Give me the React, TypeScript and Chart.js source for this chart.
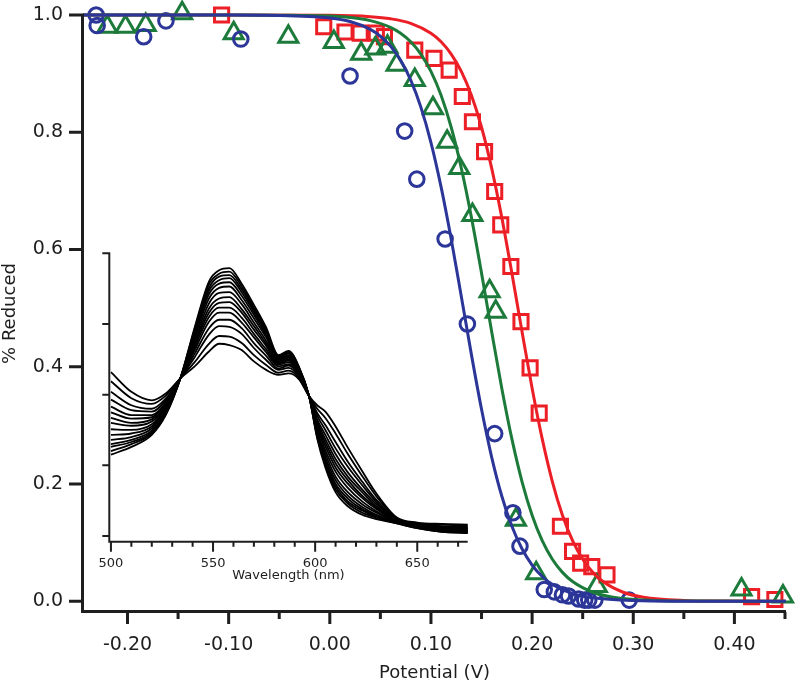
import React, { useEffect, useRef } from "react";
import { Chart, registerables } from "chart.js";

Chart.register(...registerables);

const FONT = "'DejaVu Sans', sans-serif";
const INK = "#1e1e1e";
const BLUE = "rgb(43,54,152)";
const GREEN = "rgb(28,122,58)";
const RED = "rgb(236,30,38)";

// ---- main chart: measured points ----
const blueX = [-0.231, -0.23, -0.184, -0.162, -0.088, 0.02, 0.074, 0.086, 0.114, 0.136, 0.163, 0.181, 0.188, 0.212, 0.222, 0.23, 0.236, 0.246, 0.252, 0.256, 0.262, 0.296];
const blueY = [1.0, 0.982, 0.963, 0.99, 0.959, 0.896, 0.802, 0.72, 0.618, 0.473, 0.286, 0.151, 0.094, 0.02, 0.016, 0.011, 0.009, 0.004, 0.002, 0.002, 0.002, 0.002];

const greenX = [-0.22, -0.202, -0.182, -0.146, -0.095, -0.041, 0.004, 0.031, 0.045, 0.057, 0.066, 0.084, 0.102, 0.116, 0.128, 0.141, 0.158, 0.164, 0.184, 0.204, 0.264, 0.407, 0.448];
const greenY = [0.98, 0.98, 0.983, 1.003, 0.969, 0.963, 0.954, 0.934, 0.943, 0.946, 0.915, 0.889, 0.841, 0.784, 0.739, 0.659, 0.529, 0.494, 0.139, 0.048, 0.026, 0.02, 0.008];

const redX = [-0.107, -0.006, 0.015, 0.03, 0.046, 0.054, 0.084, 0.103, 0.118, 0.131, 0.141, 0.153, 0.163, 0.169, 0.179, 0.189, 0.198, 0.207, 0.228, 0.24, 0.248, 0.259, 0.274, 0.417, 0.44];
const redY = [1.0, 0.98, 0.971, 0.969, 0.969, 0.963, 0.94, 0.926, 0.906, 0.861, 0.818, 0.767, 0.699, 0.642, 0.571, 0.477, 0.398, 0.321, 0.128, 0.085, 0.065, 0.059, 0.045, 0.008, 0.003];

// ---- main chart: fitted curves ----
const blueFitX = [-0.244, -0.1, -0.05, 0.0, 0.02, 0.04, 0.05, 0.06, 0.07, 0.08, 0.09, 0.1, 0.11, 0.12, 0.13, 0.14, 0.15, 0.16, 0.17, 0.18, 0.19, 0.2, 0.21, 0.22, 0.24, 0.26, 0.3, 0.35, 0.451];
const blueFitY = [1.0, 0.9999, 0.9993, 0.9949, 0.9888, 0.9754, 0.9638, 0.9469, 0.9228, 0.889, 0.8429, 0.7825, 0.7068, 0.6178, 0.52, 0.4207, 0.3274, 0.246, 0.1795, 0.1279, 0.0895, 0.0618, 0.0423, 0.0288, 0.0131, 0.0059, 0.0012, 0.0002, 0.0];

const greenFitX = [-0.244, -0.1, -0.05, 0.0, 0.02, 0.04, 0.06, 0.07, 0.08, 0.09, 0.1, 0.11, 0.12, 0.13, 0.14, 0.15, 0.16, 0.17, 0.18, 0.19, 0.2, 0.21, 0.22, 0.23, 0.24, 0.26, 0.28, 0.32, 0.36, 0.451];
const greenFitY = [1.0, 1.0, 0.9997, 0.9981, 0.9957, 0.9904, 0.979, 0.9689, 0.9544, 0.9334, 0.9038, 0.863, 0.8085, 0.7388, 0.6548, 0.5597, 0.4601, 0.3635, 0.2769, 0.2042, 0.1468, 0.1034, 0.0717, 0.0493, 0.0336, 0.0154, 0.007, 0.0014, 0.0003, 0.0];

const redFitX = [-0.244, -0.1, 0.0, 0.04, 0.06, 0.08, 0.1, 0.11, 0.12, 0.13, 0.14, 0.15, 0.16, 0.17, 0.18, 0.19, 0.2, 0.21, 0.22, 0.23, 0.24, 0.25, 0.26, 0.27, 0.29, 0.31, 0.35, 0.39, 0.451];
const redFitY = [1.0, 1.0, 0.9994, 0.9971, 0.9936, 0.9858, 0.9689, 0.9544, 0.9334, 0.9038, 0.863, 0.8085, 0.7388, 0.6548, 0.5597, 0.4601, 0.3635, 0.2769, 0.2042, 0.1468, 0.1034, 0.0717, 0.0493, 0.0336, 0.0154, 0.007, 0.0014, 0.0003, 0.0];

const xMajorTicks = [-0.2, -0.1, 0.0, 0.1, 0.2, 0.3, 0.4];
const xMinorTicks = [-0.15, -0.05, 0.05, 0.15, 0.25, 0.35, 0.45];
const yMajorTicks = [0.0, 0.2, 0.4, 0.6, 0.8, 1.0];

// ---- inset: absorbance spectra ----
const wavelengths = [500, 510, 520, 527, 534, 541, 548, 553, 558, 564, 570, 576, 582, 587, 592, 597, 601, 605, 610, 616, 623, 630, 640, 650, 662, 675];
const spectra = [
  [0.232, 0.204, 0.192, 0.202, 0.223, 0.240, 0.261, 0.272, 0.270, 0.263, 0.247, 0.235, 0.228, 0.230, 0.222, 0.198, 0.185, 0.176, 0.155, 0.125, 0.092, 0.060, 0.026, 0.019, 0.017, 0.016],
  [0.219, 0.195, 0.187, 0.199, 0.223, 0.246, 0.272, 0.283, 0.282, 0.273, 0.256, 0.242, 0.231, 0.234, 0.224, 0.198, 0.180, 0.167, 0.145, 0.116, 0.085, 0.056, 0.025, 0.018, 0.016, 0.015],
  [0.204, 0.185, 0.180, 0.195, 0.223, 0.253, 0.285, 0.297, 0.296, 0.286, 0.266, 0.249, 0.235, 0.238, 0.226, 0.198, 0.174, 0.157, 0.133, 0.105, 0.077, 0.051, 0.024, 0.017, 0.014, 0.013],
  [0.193, 0.178, 0.176, 0.192, 0.223, 0.258, 0.294, 0.306, 0.306, 0.294, 0.273, 0.255, 0.237, 0.241, 0.228, 0.198, 0.170, 0.150, 0.124, 0.098, 0.072, 0.048, 0.023, 0.016, 0.013, 0.012],
  [0.183, 0.171, 0.171, 0.189, 0.223, 0.263, 0.303, 0.316, 0.316, 0.302, 0.281, 0.260, 0.240, 0.243, 0.230, 0.198, 0.165, 0.143, 0.116, 0.090, 0.066, 0.045, 0.023, 0.016, 0.012, 0.011],
  [0.175, 0.166, 0.168, 0.187, 0.223, 0.267, 0.310, 0.323, 0.323, 0.309, 0.286, 0.264, 0.242, 0.246, 0.231, 0.198, 0.162, 0.137, 0.109, 0.084, 0.062, 0.042, 0.022, 0.015, 0.012, 0.010],
  [0.167, 0.160, 0.165, 0.185, 0.223, 0.271, 0.316, 0.330, 0.331, 0.316, 0.292, 0.269, 0.244, 0.248, 0.232, 0.198, 0.159, 0.132, 0.103, 0.079, 0.057, 0.040, 0.022, 0.015, 0.011, 0.009],
  [0.160, 0.156, 0.162, 0.183, 0.223, 0.274, 0.322, 0.336, 0.338, 0.321, 0.297, 0.272, 0.245, 0.250, 0.233, 0.198, 0.156, 0.127, 0.097, 0.074, 0.054, 0.038, 0.021, 0.014, 0.010, 0.009],
  [0.151, 0.150, 0.158, 0.181, 0.223, 0.278, 0.329, 0.344, 0.345, 0.328, 0.302, 0.276, 0.247, 0.252, 0.234, 0.198, 0.153, 0.121, 0.091, 0.068, 0.049, 0.035, 0.020, 0.013, 0.009, 0.008],
  [0.143, 0.145, 0.155, 0.179, 0.223, 0.282, 0.336, 0.351, 0.353, 0.334, 0.308, 0.281, 0.249, 0.254, 0.236, 0.198, 0.149, 0.116, 0.084, 0.062, 0.045, 0.033, 0.020, 0.013, 0.009, 0.007],
  [0.136, 0.140, 0.152, 0.177, 0.223, 0.285, 0.342, 0.357, 0.359, 0.340, 0.313, 0.284, 0.251, 0.256, 0.237, 0.198, 0.146, 0.111, 0.079, 0.057, 0.041, 0.030, 0.019, 0.012, 0.008, 0.006],
  [0.130, 0.136, 0.149, 0.176, 0.223, 0.288, 0.347, 0.362, 0.365, 0.345, 0.317, 0.287, 0.252, 0.258, 0.238, 0.198, 0.144, 0.107, 0.074, 0.053, 0.038, 0.029, 0.019, 0.012, 0.007, 0.006],
  [0.126, 0.133, 0.147, 0.175, 0.223, 0.290, 0.351, 0.367, 0.369, 0.349, 0.320, 0.290, 0.253, 0.259, 0.238, 0.198, 0.142, 0.104, 0.070, 0.049, 0.036, 0.027, 0.019, 0.012, 0.007, 0.005],
  [0.120, 0.130, 0.145, 0.173, 0.223, 0.293, 0.356, 0.371, 0.374, 0.353, 0.323, 0.292, 0.255, 0.261, 0.239, 0.198, 0.140, 0.101, 0.066, 0.046, 0.033, 0.026, 0.018, 0.011, 0.006, 0.005],
  [0.115, 0.126, 0.143, 0.172, 0.223, 0.295, 0.360, 0.376, 0.379, 0.357, 0.327, 0.295, 0.256, 0.262, 0.240, 0.198, 0.138, 0.097, 0.062, 0.042, 0.030, 0.024, 0.018, 0.011, 0.006, 0.004],
];
const inXMajor = [500, 550, 600, 650];
const inXMinor = [510, 520, 530, 540, 560, 570, 580, 590, 610, 620, 630, 640, 660, 670];
const inYTicks = [0.0, 0.1, 0.2, 0.3, 0.4];

const pts = (xs: number[], ys: number[]) => xs.map((x, i) => ({ x, y: ys[i] }));

const mainAxesPlugin = {
  id: "mainAxes",
  afterDraw(chart: any) {
    const { ctx, chartArea: a, scales } = chart;
    const x = scales.x;
    const y = scales.y;
    ctx.save();
    ctx.strokeStyle = INK;
    ctx.lineWidth = 3;
    ctx.beginPath();
    ctx.moveTo(a.left - 0.5, a.top - 1.5);
    ctx.lineTo(a.left - 0.5, a.bottom + 1);
    ctx.moveTo(a.left - 2, a.bottom - 0.5);
    ctx.lineTo(a.right, a.bottom - 0.5);
    for (const v of xMajorTicks) {
      const px = x.getPixelForValue(v);
      ctx.moveTo(px, a.bottom);
      ctx.lineTo(px, a.bottom + 12);
    }
    for (const v of xMinorTicks) {
      const px = x.getPixelForValue(v);
      ctx.moveTo(px, a.bottom);
      ctx.lineTo(px, a.bottom + 7);
    }
    for (const v of yMajorTicks) {
      const py = y.getPixelForValue(v);
      ctx.moveTo(a.left, py);
      ctx.lineTo(a.left - 14, py);
    }
    ctx.stroke();
    ctx.restore();
  },
};

const insetAxesPlugin = {
  id: "insetAxes",
  afterDraw(chart: any) {
    const { ctx, chartArea: a, scales } = chart;
    const x = scales.x;
    const y = scales.y;
    ctx.save();
    ctx.strokeStyle = INK;
    ctx.lineWidth = 2;
    ctx.beginPath();
    ctx.moveTo(a.left, a.top - 1);
    ctx.lineTo(a.left, a.bottom + 1);
    ctx.moveTo(a.left - 1, a.bottom);
    ctx.lineTo(a.right, a.bottom);
    for (const v of inXMajor) {
      const px = x.getPixelForValue(v);
      ctx.moveTo(px, a.bottom);
      ctx.lineTo(px, a.bottom + 10);
    }
    for (const v of inXMinor) {
      const px = x.getPixelForValue(v);
      ctx.moveTo(px, a.bottom);
      ctx.lineTo(px, a.bottom + 5);
    }
    for (const v of inYTicks) {
      const py = y.getPixelForValue(v);
      ctx.moveTo(a.left, py);
      ctx.lineTo(a.left - 7, py);
    }
    ctx.stroke();
    ctx.restore();
  },
};

export default function App() {
  const mainRef = useRef<HTMLCanvasElement>(null);
  const insetRef = useRef<HTMLCanvasElement>(null);

  useEffect(() => {
    const fitDs = (xs: number[], ys: number[], color: string) => ({
      data: pts(xs, ys),
      borderColor: color,
      borderWidth: 3,
      pointRadius: 0,
      showLine: true,
      fill: false,
      cubicInterpolationMode: "monotone" as const,
      clip: false as any,
    });
    const markDs = (xs: number[], ys: number[], color: string, style: string, r: number) => ({
      data: pts(xs, ys),
      borderColor: color,
      backgroundColor: "rgba(0,0,0,0)",
      pointBorderColor: color,
      pointBackgroundColor: "rgba(0,0,0,0)",
      pointStyle: style,
      pointRadius: r,
      pointBorderWidth: 3,
      showLine: false,
      clip: false as any,
    });

    const main = new Chart(mainRef.current!, {
      type: "line",
      data: {
        datasets: [
          fitDs(blueFitX, blueFitY, BLUE),
          fitDs(greenFitX, greenFitY, GREEN),
          fitDs(redFitX, redFitY, RED),
          markDs(blueX, blueY, BLUE, "circle", 7.3),
          markDs(greenX, greenY, GREEN, "triangle", 11),
          markDs(redX, redY, RED, "rect", 10),
        ] as any,
      },
      options: {
        animation: false,
        responsive: false,
        events: [],
        layout: { padding: { left: 0, top: 15, right: 12, bottom: 0 } },
        plugins: { legend: { display: false }, tooltip: { enabled: false } },
        scales: {
          x: {
            type: "linear",
            min: -0.244,
            max: 0.451,
            grid: { display: false, drawTicks: false },
            border: { display: false },
            afterBuildTicks: (s: any) => {
              s.ticks = xMajorTicks.map((v) => ({ value: v }));
            },
            afterFit: (s: any) => {
              s.height = 72;
              s.paddingLeft = 0;
              s.paddingRight = 0;
            },
            ticks: {
              callback: (v: any) => Number(v).toFixed(2),
              font: { family: FONT, size: 19 },
              color: INK,
              padding: 22,
              maxRotation: 0,
              autoSkip: false,
            },
            title: {
              display: true,
              text: "Potential (V)",
              font: { family: FONT, size: 18 },
              color: INK,
              padding: 0,
            },
          },
          y: {
            type: "linear",
            min: -0.0183,
            max: 1.0,
            grid: { display: false, drawTicks: false },
            border: { display: false },
            afterBuildTicks: (s: any) => {
              s.ticks = yMajorTicks.map((v) => ({ value: v }));
            },
            afterFit: (s: any) => {
              s.width = 83;
              s.paddingTop = 0;
              s.paddingBottom = 0;
            },
            ticks: {
              callback: (v: any) => Number(v).toFixed(1),
              font: { family: FONT, size: 19 },
              color: INK,
              padding: 20,
              autoSkip: false,
            },
            title: {
              display: true,
              text: "% Reduced",
              font: { family: FONT, size: 18 },
              color: INK,
              padding: 0,
            },
          },
        },
      },
      plugins: [mainAxesPlugin],
    });

    const inset = new Chart(insetRef.current!, {
      type: "line",
      data: {
        datasets: spectra.map((s) => ({
          data: pts(wavelengths, s),
          borderColor: "#000",
          borderWidth: 1.8,
          pointRadius: 0,
          fill: false,
          cubicInterpolationMode: "monotone" as const,
        })) as any,
      },
      options: {
        animation: false,
        responsive: false,
        events: [],
        layout: { padding: { left: 29.3, top: 13.3, right: 12.3, bottom: 8.3 } },
        plugins: { legend: { display: false }, tooltip: { enabled: false } },
        scales: {
          x: {
            type: "linear",
            min: 499.2,
            max: 674.7,
            grid: { display: false, drawTicks: false },
            border: { display: false },
            afterBuildTicks: (s: any) => {
              s.ticks = inXMajor.map((v) => ({ value: v }));
            },
            afterFit: (s: any) => {
              s.height = 40;
              s.paddingLeft = 0;
              s.paddingRight = 0;
            },
            ticks: {
              callback: (v: any) => String(v),
              font: { family: FONT, size: 13 },
              color: INK,
              padding: 14.5,
              maxRotation: 0,
              autoSkip: false,
            },
            title: {
              display: true,
              text: "Wavelength (nm)",
              font: { family: FONT, size: 13 },
              color: INK,
              padding: { top: 0, bottom: -1.5 },
            },
          },
          y: {
            type: "linear",
            display: false,
            min: -0.0081,
            max: 0.4,
          },
        },
      },
      plugins: [insetAxesPlugin],
    });

    return () => {
      main.destroy();
      inset.destroy();
    };
  }, []);

  return (
    <div style={{ position: "fixed", left: 0, top: 0, width: 800, height: 684, background: "#fff" }}>
      <canvas ref={mainRef} width={800} height={684} style={{ position: "absolute", left: 0, top: 0, width: 800, height: 684 }} />
      <canvas ref={insetRef} width={400} height={350} style={{ position: "absolute", left: 80, top: 240, width: 400, height: 350 }} />
    </div>
  );
}
